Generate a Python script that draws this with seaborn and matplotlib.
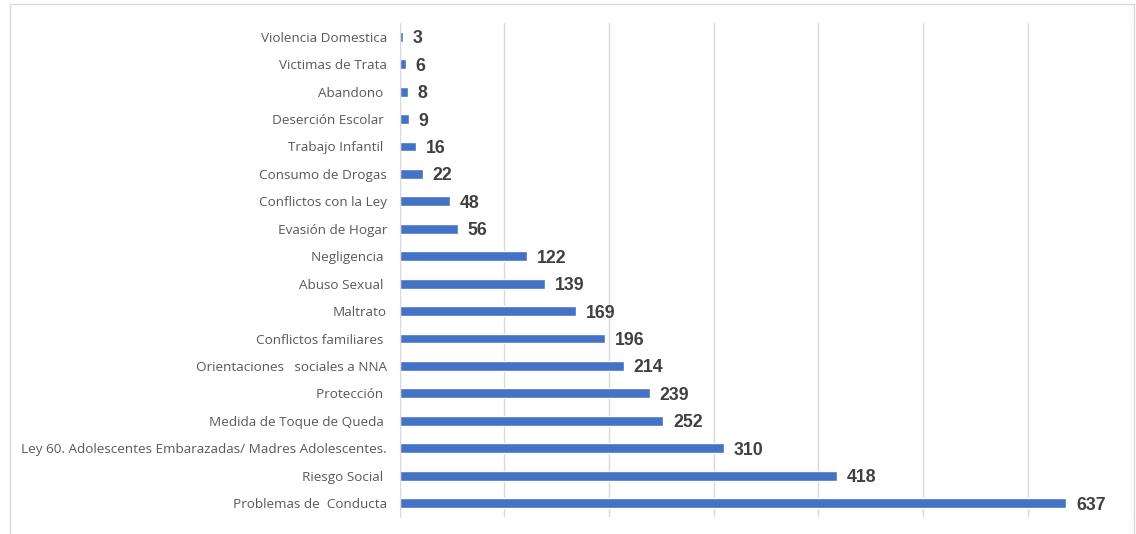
import seaborn as sns
import matplotlib.pyplot as plt
import pandas as pd
from matplotlib.patches import Rectangle

categorias = [
    "Violencia Domestica", "Victimas de Trata", "Abandono ", "Deserción Escolar ",
    "Trabajo Infantil ", "Consumo de Drogas", "Conflictos con la Ley",
    "Evasión de Hogar", "Negligencia ", "Abuso Sexual ", "Maltrato",
    "Conflictos familiares ", "Orientaciones   sociales a NNA", "Protección ",
    "Medida de Toque de Queda ",
    "Ley 60. Adolescentes Embarazadas/ Madres Adolescentes.",
    "Riesgo Social ", "Problemas de  Conducta",
]
casos = [3, 6, 8, 9, 16, 22, 48, 56, 122, 139, 169, 196, 214, 239, 252, 310, 418, 637]
grid_ticks = [0, 100, 200, 300, 400, 500, 600, 700]

df = pd.DataFrame({"categoria": categorias, "casos": casos})

sns.set_style("white")
fig = plt.figure(figsize=(11.36, 5.34), dpi=100)
ax = fig.add_axes([0.3517, 0.032, 0.645, 0.925])

sns.barplot(data=df, x="casos", y="categoria", color="#4472C4", width=0.36,
            saturation=1, ax=ax)

# etiquetas de valor
for t in ax.bar_label(ax.containers[0], padding=7, fontsize=12.8,
                      fontweight="bold", color="#404040",
                      family="Liberation Sans"):
    t.set_va("center_baseline")

ax.set_xlim(0, 700)
ax.set_xticks(grid_ticks)
ax.set_xticklabels([])
ax.xaxis.grid(True, color="#d9d9d9", linewidth=1)
ax.set_axisbelow(True)
ax.set_xlabel("")
ax.set_ylabel("")
ax.tick_params(axis="y", length=0, pad=9, labelsize=9.7, labelcolor="#595959")
ax.tick_params(axis="x", length=0)
for lbl in ax.get_yticklabels():
    lbl.set_family("Open Sans")
for s in ["top", "right", "bottom"]:
    ax.spines[s].set_visible(False)
ax.spines["left"].set_color("#d9d9d9")

# marco exterior del gráfico
fig.patches.append(Rectangle((10 / 1136, -0.05), 1124 / 1136, 1.05 - 4 / 534,
                             transform=fig.transFigure, fill=False,
                             edgecolor="#d9d9d9", linewidth=1))

fig.savefig("out.png", dpi=100)
